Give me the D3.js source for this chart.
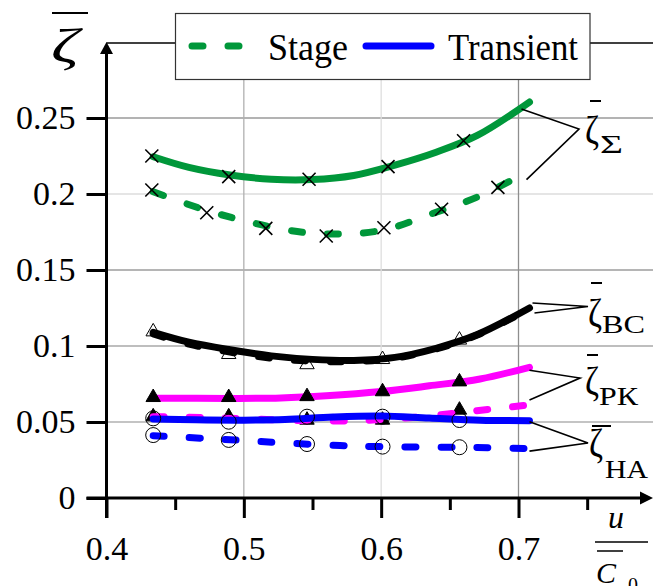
<!DOCTYPE html>
<html>
<head>
<meta charset="utf-8">
<script src="https://cdn.jsdelivr.net/npm/d3@7"></script>
<style>
  html, body { margin: 0; padding: 0; background: #fff; }
  svg { display: block; }
  .serif { font-family: "Liberation Serif", "Times New Roman", serif; }
</style>
</head>
<body>
<svg id="chart" width="653" height="586"></svg>
<script>
// ---- axis ticks ----
const xMajor = [0.4, 0.5, 0.6, 0.7];
const xMinor = [0.45, 0.55, 0.65, 0.75];
const xTickLabels = ["0.4", "0.5", "0.6", "0.7"];
const yTicks = [0, 0.05, 0.1, 0.15, 0.2, 0.25];
const yTickLabels = ["0", "0.05", "0.1", "0.15", "0.2", "0.25"];
const xGrid = [0.5, 0.6, 0.7];
const yGrid = [0.05, 0.1, 0.15, 0.2, 0.25];

// ---- measured points u/C0 ----
const markU = [0.434, 0.489, 0.546, 0.601, 0.657];

// ζΣ : total losses
const sumTransCurveU = [0.434, 0.46, 0.49, 0.52, 0.55, 0.58, 0.61, 0.64, 0.67, 0.708];
const sumTransCurve  = [0.2245, 0.2175, 0.2125, 0.2097, 0.2095, 0.2122, 0.219, 0.2275, 0.2385, 0.2605];
const sumTransMarkU  = [0.433, 0.489, 0.5475, 0.605, 0.66];
const sumTransMark   = [0.225, 0.2114, 0.2097, 0.218, 0.235];
const sumStageCurveU = [0.434, 0.47, 0.5, 0.53, 0.56, 0.6, 0.64, 0.67, 0.70];
const sumStageCurve  = [0.2015, 0.19, 0.1825, 0.1765, 0.1737, 0.176, 0.188, 0.198, 0.2114];
const sumStageMarkU  = [0.433, 0.473, 0.516, 0.560, 0.602, 0.644, 0.685];
const sumStageMark   = [0.2026, 0.1877, 0.1774, 0.1724, 0.1778, 0.190, 0.2044];

// ζВС
const bcCurveU    = [0.434, 0.46, 0.49, 0.52, 0.55, 0.58, 0.61, 0.64, 0.67, 0.708];
const bcTrans     = [0.1090, 0.1025, 0.0975, 0.0935, 0.0912, 0.0905, 0.0925, 0.0985, 0.1075, 0.125];
const bcStage     = [0.1080, 0.1012, 0.0960, 0.0920, 0.0900, 0.0898, 0.0920, 0.0980, 0.1072, 0.1245];
const bcMark      = [0.1094, 0.0945, 0.0878, 0.0912, 0.104];

// ζРК
const pkTransCurveU = [0.434, 0.49, 0.527, 0.56, 0.6, 0.635, 0.672, 0.708];
const pkTransCurve  = [0.0657, 0.0655, 0.0658, 0.0672, 0.070, 0.0738, 0.0783, 0.086];
const pkTransMark   = [0.0662, 0.0662, 0.0668, 0.070, 0.0765];
const pkStageCurveU = [0.434, 0.47, 0.5, 0.53, 0.57, 0.6, 0.63, 0.66, 0.685, 0.708];
const pkStageCurve  = [0.0535, 0.053, 0.0522, 0.0512, 0.0507, 0.0516, 0.0535, 0.0565, 0.059, 0.0612];
const pkStageMark   = [0.0535, 0.0535, 0.0513, 0.0513, 0.0579];

// ζНА
const haTransCurveU = [0.434, 0.465, 0.5, 0.53, 0.565, 0.6, 0.635, 0.672, 0.708];
const haTransCurve  = [0.052, 0.0514, 0.0512, 0.0516, 0.0533, 0.054, 0.0526, 0.0512, 0.0509];
const haTransMark   = [0.0524, 0.0502, 0.0535, 0.0535, 0.0513];
const haStageCurveU = [0.434, 0.47, 0.5, 0.53, 0.57, 0.6, 0.64, 0.67, 0.708];
const haStageCurve  = [0.041, 0.0393, 0.0378, 0.0362, 0.0345, 0.0338, 0.0334, 0.0332, 0.0325];
const haStageMark   = [0.0414, 0.0382, 0.0355, 0.0338, 0.0334];

const legendLabels = ["Stage", "Transient"];

// ---- layout ----
const svg = d3.select("#chart");
const x = d3.scaleLinear().domain([0.4, 0.7]).range([106.5, 518.5]);
const y = d3.scaleLinear().domain([0, 0.25]).range([498, 118]);
const X0 = x(0.4), Y0 = y(0), RIGHT = 653, TOP = 43;

const GREEN = "#00973a", MAGENTA = "#ff00ff", BLUE = "#0000ff";
const LW = 7;
const SERIF = '"Liberation Serif", "Times New Roman", serif';

// ---- grid ----
const yGridColor = {0.05: "#b0b0b0", 0.1: "#a8a8a8", 0.15: "#9c9c9c", 0.2: "#dcdcdc", 0.25: "#9a9a9a"};
const xGridColor = {0.5: "#b0b0b0", 0.6: "#dedede", 0.7: "#8e8e8e"};
svg.append("g").selectAll("line").data(yGrid).join("line")
  .attr("x1", X0).attr("x2", RIGHT).attr("y1", d => y(d)).attr("y2", d => y(d))
  .attr("stroke", d => yGridColor[d]).attr("stroke-width", 1.3);
svg.append("g").selectAll("line").data(xGrid).join("line")
  .attr("x1", d => x(d)).attr("x2", d => x(d)).attr("y1", TOP).attr("y2", Y0)
  .attr("stroke", d => xGridColor[d]).attr("stroke-width", 1.3);

// top frame line
svg.append("line").attr("x1", X0).attr("x2", RIGHT).attr("y1", TOP).attr("y2", TOP)
  .attr("stroke", "#000").attr("stroke-width", 1.5);

// ---- axes ----
const fmtX = d => xTickLabels[xMajor.indexOf(d)];
const fmtY = d => yTickLabels[yTicks.indexOf(d)];

const xAxis = svg.append("g").attr("transform", `translate(0,${Y0})`)
  .call(d3.axisBottom(x).tickValues(xMajor).tickSize(20).tickPadding(18).tickFormat(fmtX));
const xAxisMinor = svg.append("g").attr("transform", `translate(0,${Y0})`)
  .call(d3.axisBottom(x).tickValues(xMinor).tickSize(12).tickFormat(""));
const yAxis = svg.append("g").attr("transform", `translate(${X0},0)`)
  .call(d3.axisLeft(y).tickValues(yTicks).tickSize(20).tickPadding(11).tickFormat(fmtY));

[xAxis, xAxisMinor, yAxis].forEach(g => {
  g.attr("font-family", null).attr("font-size", null);
  g.select(".domain").remove();
  g.selectAll(".tick line").attr("stroke", "#000").attr("stroke-width", 3);
  g.selectAll(".tick text").attr("font-size", 34).attr("fill", "#000");
});

// axis lines with arrows
svg.append("line").attr("x1", X0).attr("x2", X0).attr("y1", Y0 + 20).attr("y2", TOP + 6)
  .attr("stroke", "#000").attr("stroke-width", 3);
svg.append("line").attr("x1", X0 - 20).attr("x2", RIGHT - 8).attr("y1", Y0).attr("y2", Y0)
  .attr("stroke", "#000").attr("stroke-width", 3);
svg.append("path").attr("d", `M${X0},${TOP - 1} L${X0 - 6.5},${TOP + 11} L${X0 + 6.5},${TOP + 11} Z`).attr("fill", "#000");
svg.append("path").attr("d", `M${RIGHT},${Y0} L${RIGHT - 13},${Y0 - 6.5} L${RIGHT - 13},${Y0 + 6.5} Z`).attr("fill", "#000");

// ---- helpers ----
const line = d3.line().x(d => x(d[0])).y(d => y(d[1])).curve(d3.curveCatmullRom.alpha(0.5));
const zip = (us, vs) => us.map((u, i) => [u, vs[i]]);
const DASH = "11 25";

function drawCurve(us, vs, color, dashed, width) {
  svg.append("path").datum(zip(us, vs)).attr("d", line)
    .attr("fill", "none").attr("stroke", color).attr("stroke-width", width || LW)
    .attr("stroke-linecap", "round").attr("stroke-dasharray", dashed ? DASH : null);
}
const triSym = d3.symbol().type(d3.symbolTriangle).size(90);
function drawTriangles(us, vs, filled) {
  svg.append("g").selectAll("path").data(zip(us, vs)).join("path")
    .attr("d", triSym).attr("transform", d => `translate(${x(d[0])},${y(d[1])})`)
    .attr("fill", filled ? "#000" : "#fff").attr("stroke", "#000").attr("stroke-width", 1);
}
function drawCircles(us, vs) {
  svg.append("g").selectAll("circle").data(zip(us, vs)).join("circle")
    .attr("cx", d => x(d[0])).attr("cy", d => y(d[1])).attr("r", 7.5)
    .attr("fill", "none").attr("stroke", "#000").attr("stroke-width", 1);
}
function drawCrosses(us, vs) {
  const s = 6.5;
  svg.append("g").selectAll("path").data(zip(us, vs)).join("path")
    .attr("d", d => { const cx = x(d[0]), cy = y(d[1]);
      return `M${cx - s},${cy - s}L${cx + s},${cy + s}M${cx - s},${cy + s}L${cx + s},${cy - s}`; })
    .attr("stroke", "#000").attr("stroke-width", 1.6).attr("fill", "none");
}

// markers that sit beneath the curves
drawTriangles(markU, bcMark, false);
drawTriangles(markU, pkStageMark, true);

// curves
drawCurve(sumTransCurveU, sumTransCurve, GREEN, false);
drawCurve(sumStageCurveU, sumStageCurve, GREEN, true);
drawCurve(bcCurveU, bcStage, "#000", true, 7);
drawCurve(bcCurveU, bcTrans, "#000", false, 7);
drawCurve(pkStageCurveU, pkStageCurve, MAGENTA, true);
drawCurve(pkTransCurveU, pkTransCurve, MAGENTA, false);
drawCurve(haStageCurveU, haStageCurve, BLUE, true);
drawCurve(haTransCurveU, haTransCurve, BLUE, false);

// markers on top
drawCrosses(sumTransMarkU, sumTransMark);
drawCrosses(sumStageMarkU, sumStageMark);
drawTriangles(markU, pkTransMark, true);
drawCircles(markU, haTransMark);
drawCircles(markU, haStageMark);

// ---- curve labels with leader lines ----
const endPt = (us, vs) => [x(us[us.length - 1]), y(vs[vs.length - 1])];
function leader(p1, p2, apex) {
  svg.append("path").attr("d", `M${p1[0]},${p1[1]}L${apex[0]},${apex[1]}L${p2[0]},${p2[1]}`)
    .attr("fill", "none").attr("stroke", "#000").attr("stroke-width", 1.6);
}
function zetaLabel(zx, zy, sub, sx, sy, subLen, barX1, barX2, barY) {
  svg.append("text").attr("x", zx).attr("y", zy).attr("font-size", 40)
    .attr("textLength", 14).attr("lengthAdjust", "spacingAndGlyphs").text("ζ");
  svg.append("text").attr("x", sx).attr("y", sy).attr("font-size", 25)
    .attr("textLength", subLen).attr("lengthAdjust", "spacingAndGlyphs").text(sub);
  svg.append("line").attr("x1", barX1).attr("x2", barX2).attr("y1", barY).attr("y2", barY)
    .attr("stroke", "#000").attr("stroke-width", 2);
}

{
  const a = endPt(sumTransCurveU, sumTransCurve), b = endPt(sumStageCurveU, sumStageCurve);
  leader([a[0] - 8, a[1] + 7], [b[0] + 8, b[1] + 3], [579, 129]);
  zetaLabel(585, 143, "Σ", 600, 153, 23, 590, 601, 101);
}
{
  const a = endPt(bcCurveU, bcTrans);
  leader([a[0] + 3, a[1] - 5], [a[0] + 5, a[1] + 5], [588, 306.5]);
  zetaLabel(588, 326, "ВС", 602, 333, 43, 591, 602, 283);
}
{
  const a = endPt(pkTransCurveU, pkTransCurve), b = endPt(pkStageCurveU, pkStageCurve);
  leader([a[0], a[1] + 3], [b[0], b[1] - 5], [580, 378]);
  zetaLabel(585, 394, "РК", 599, 405, 39, 587, 598, 355);
}
{
  const a = endPt(haTransCurveU, haTransCurve), b = endPt(haStageCurveU, haStageCurve);
  leader([a[0], a[1] + 1], [b[0], b[1] + 2.5], [588, 443]);
  zetaLabel(589, 456, "НА", 605, 478, 43, 592, 611, 426);
}

// ---- axis titles ----
svg.append("line").attr("x1", 52).attr("x2", 88).attr("y1", 13).attr("y2", 13)
  .attr("stroke", "#000").attr("stroke-width", 2);
svg.append("text").attr("x", 51).attr("y", 62).attr("font-size", 48)
  .attr("font-style", "italic").attr("textLength", 28).attr("lengthAdjust", "spacingAndGlyphs").text("ζ");

svg.append("text").attr("x", 608).attr("y", 528).attr("font-size", 32)
  .attr("font-style", "italic").text("u");
svg.append("line").attr("x1", 595).attr("x2", 648).attr("y1", 542).attr("y2", 542)
  .attr("stroke", "#000").attr("stroke-width", 1.5);
svg.append("line").attr("x1", 597).attr("x2", 623).attr("y1", 551).attr("y2", 551)
  .attr("stroke", "#000").attr("stroke-width", 1.5);
svg.append("text").attr("x", 596).attr("y", 583).attr("font-size", 30)
  .attr("font-style", "italic").text("C");
svg.append("text").attr("x", 628).attr("y", 592).attr("font-size", 20).text("0");

// ---- legend ----
const lg = svg.append("g");
lg.append("rect").attr("x", 175.5).attr("y", 13.5).attr("width", 414.5).attr("height", 66)
  .attr("fill", "#fff").attr("stroke", "#333").attr("stroke-width", 1.2);
lg.append("line").attr("x1", 192).attr("x2", 240).attr("y1", 46).attr("y2", 46)
  .attr("stroke", GREEN).attr("stroke-width", LW).attr("stroke-linecap", "round")
  .attr("stroke-dasharray", DASH);
lg.append("text").attr("x", 268).attr("y", 60).attr("font-size", 38)
  .attr("textLength", 80).attr("lengthAdjust", "spacingAndGlyphs").text(legendLabels[0]);
lg.append("line").attr("x1", 366).attr("x2", 431).attr("y1", 46).attr("y2", 46)
  .attr("stroke", BLUE).attr("stroke-width", LW).attr("stroke-linecap", "round");
lg.append("text").attr("x", 448).attr("y", 60).attr("font-size", 38)
  .attr("textLength", 130).attr("lengthAdjust", "spacingAndGlyphs").text(legendLabels[1]);

// serif type for every text element
svg.selectAll("text").classed("serif", true).attr("font-family", SERIF).attr("fill", "#000");
</script>
</body>
</html>
